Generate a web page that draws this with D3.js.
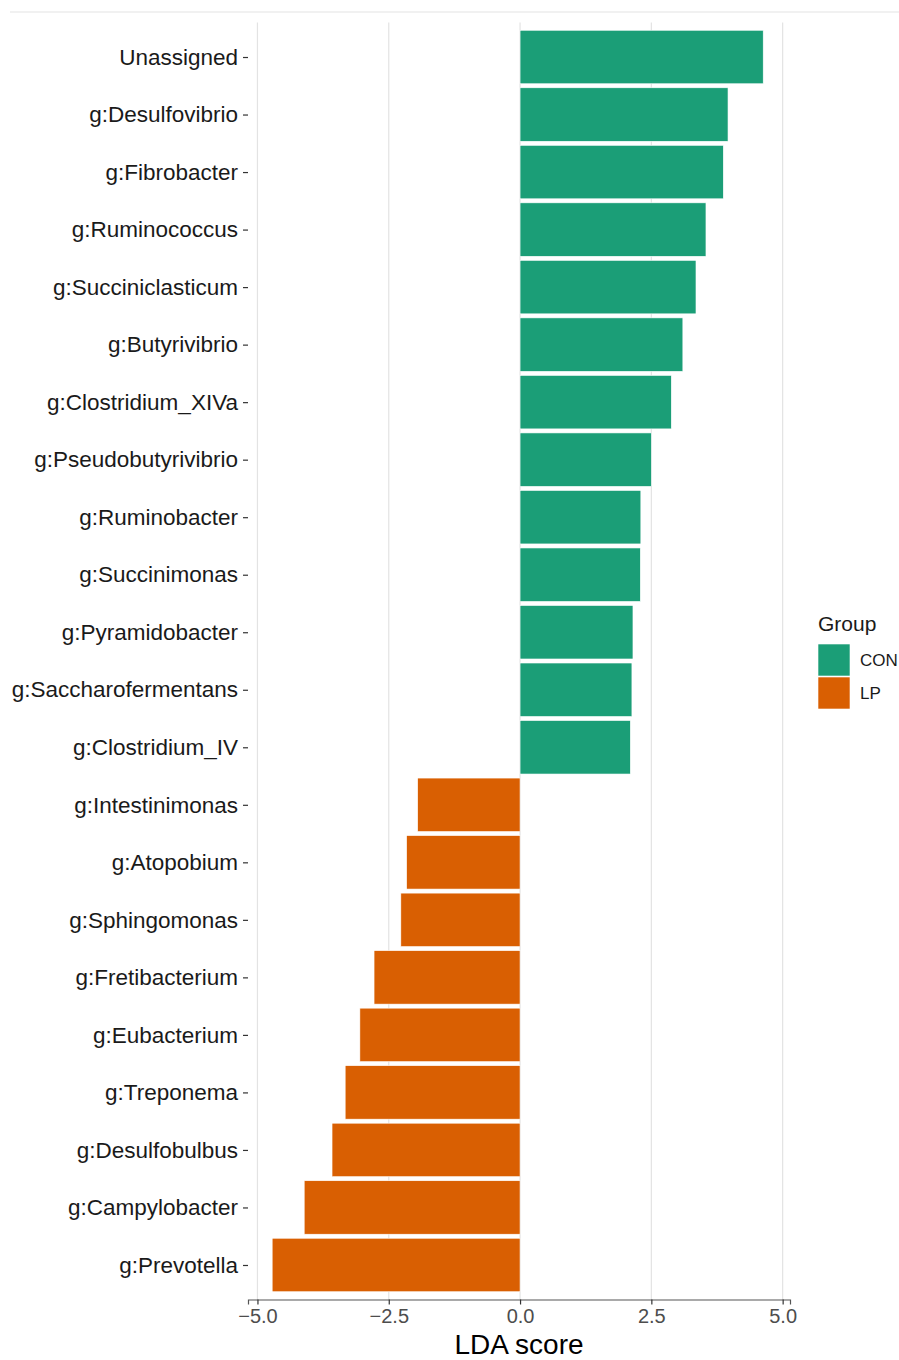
<!DOCTYPE html>
<html lang="en">
<head>
	<meta charset="utf-8">
	<title>LDA score</title>
	<style>
		body { margin: 0; background: #fff; }
		svg { display: block; font-family: 'Liberation Sans', Arial, sans-serif; }
		.grid line { stroke: #e3e3e3; stroke-width: 1.2; }
		.tick-y text { fill: #1a1a1a; font-size: 22.5px; }
	</style>
</head>
<body>
	<svg width="899" height="1360"></svg>

	<script src="https://d3js.org/d3.v7.min.js"></script>
	<script>
		// taxa, top to bottom
		var taxa = ["Unassigned", "g:Desulfovibrio", "g:Fibrobacter", "g:Ruminococcus", "g:Succiniclasticum",
			"g:Butyrivibrio", "g:Clostridium_XIVa", "g:Pseudobutyrivibrio", "g:Ruminobacter", "g:Succinimonas",
			"g:Pyramidobacter", "g:Saccharofermentans", "g:Clostridium_IV", "g:Intestinimonas", "g:Atopobium",
			"g:Sphingomonas", "g:Fretibacterium", "g:Eubacterium", "g:Treponema", "g:Desulfobulbus",
			"g:Campylobacter", "g:Prevotella"];
		var ldaScores = [4.63, 3.96, 3.87, 3.54, 3.35, 3.10, 2.88, 2.50, 2.30, 2.29, 2.15, 2.13, 2.10,
			-1.95, -2.16, -2.27, -2.78, -3.05, -3.33, -3.58, -4.11, -4.72];
		var groups = ["CON", "CON", "CON", "CON", "CON", "CON", "CON", "CON", "CON", "CON", "CON", "CON", "CON",
			"LP", "LP", "LP", "LP", "LP", "LP", "LP", "LP", "LP"];
		var groupNames = ["CON", "LP"];
		var xTicks = [-5, -2.5, 0, 2.5, 5];

		var data = taxa.map(function(t, i) {
			return { taxon: t, lda: ldaScores[i], group: groups[i] };
		});

		var panel = { left: 248, right: 790, top: 22.5, bottom: 1299.5 };

		var svg = d3.select("svg");

		// thin rule at the very top of the picture
		svg.append("line")
			.attr("x1", 10).attr("x2", 899)
			.attr("y1", 12).attr("y2", 12)
			.style("stroke", "#e3e3e3").style("stroke-width", 1);

		var x = d3.scaleLinear().domain([-5.18, 5.14]).range([panel.left, panel.right]);
		var y = d3.scalePoint().domain(taxa).range([panel.top, panel.bottom]).padding(0.6);
		var color = d3.scaleOrdinal().domain(groupNames).range(["#1b9e77", "#d95f02"]);

		var barH = y.step() * 0.93;

		// vertical grid
		svg.append("g").attr("class", "grid")
			.selectAll("line").data(xTicks)
			.enter().append("line")
			.attr("x1", function(d) { return x(d); })
			.attr("x2", function(d) { return x(d); })
			.attr("y1", panel.top).attr("y2", panel.bottom);

		// bars
		svg.append("g").selectAll("rect").data(data)
			.enter().append("rect")
			.attr("x", function(d) { return x(Math.min(0, d.lda)); })
			.attr("width", function(d) { return Math.abs(x(d.lda) - x(0)); })
			.attr("y", function(d) { return y(d.taxon) - barH / 2; })
			.attr("height", barH)
			.style("fill", function(d) { return color(d.group); })
			.style("stroke", "#ffffff")
			.style("stroke-width", 0.6);

		// bottom axis
		var xAxis = svg.append("g")
			.attr("transform", "translate(0," + panel.bottom + ")")
			.call(d3.axisBottom(x).tickValues(xTicks).tickSize(5).tickPadding(4)
				.tickFormat(function(d) { return d3.format(".1f")(d).replace("-", "\u2212"); }));
		xAxis.select(".domain").style("stroke", "#555").style("stroke-width", 1.2);
		xAxis.selectAll(".tick line").style("stroke", "#333").style("stroke-width", 1.2);
		xAxis.selectAll(".tick text")
			.attr("dy", null).attr("y", 23.5)
			.style("font-size", "20px").style("fill", "#4d4d4d")
			.style("font-family", "'Liberation Sans', Arial, sans-serif");

		// left axis: labels and small ticks, no line
		var yAxis = svg.append("g").attr("class", "tick-y")
			.attr("transform", "translate(" + panel.left + ",0)")
			.call(d3.axisLeft(y).tickSize(5).tickPadding(5));
		yAxis.select(".domain").remove();
		yAxis.selectAll(".tick line").style("stroke", "#333").style("stroke-width", 1.2);
		yAxis.selectAll(".tick text")
			.style("font-family", "'Liberation Sans', Arial, sans-serif");

		// axis title
		svg.append("text")
			.attr("x", (panel.left + panel.right) / 2)
			.attr("y", 1354)
			.attr("text-anchor", "middle")
			.style("font-size", "28px")
			.style("fill", "#000")
			.text("LDA score");

		// legend
		var legend = svg.append("g").attr("transform", "translate(818,612)");
		legend.append("text")
			.attr("x", 0).attr("y", 19)
			.style("font-size", "21px").style("fill", "#1a1a1a")
			.text("Group");
		var keys = legend.selectAll(".key").data(groupNames)
			.enter().append("g")
			.attr("class", "key")
			.attr("transform", function(d, i) { return "translate(0," + (32 + i * 33) + ")"; });
		keys.append("rect")
			.attr("width", 32).attr("height", 32)
			.style("fill", function(d) { return color(d); })
			.style("stroke", "#ffffff").style("stroke-width", 0.6);
		keys.append("text")
			.attr("x", 42).attr("y", 22)
			.style("font-size", "17px").style("fill", "#1a1a1a")
			.text(function(d) { return d; });
	</script>
</body>
</html>
